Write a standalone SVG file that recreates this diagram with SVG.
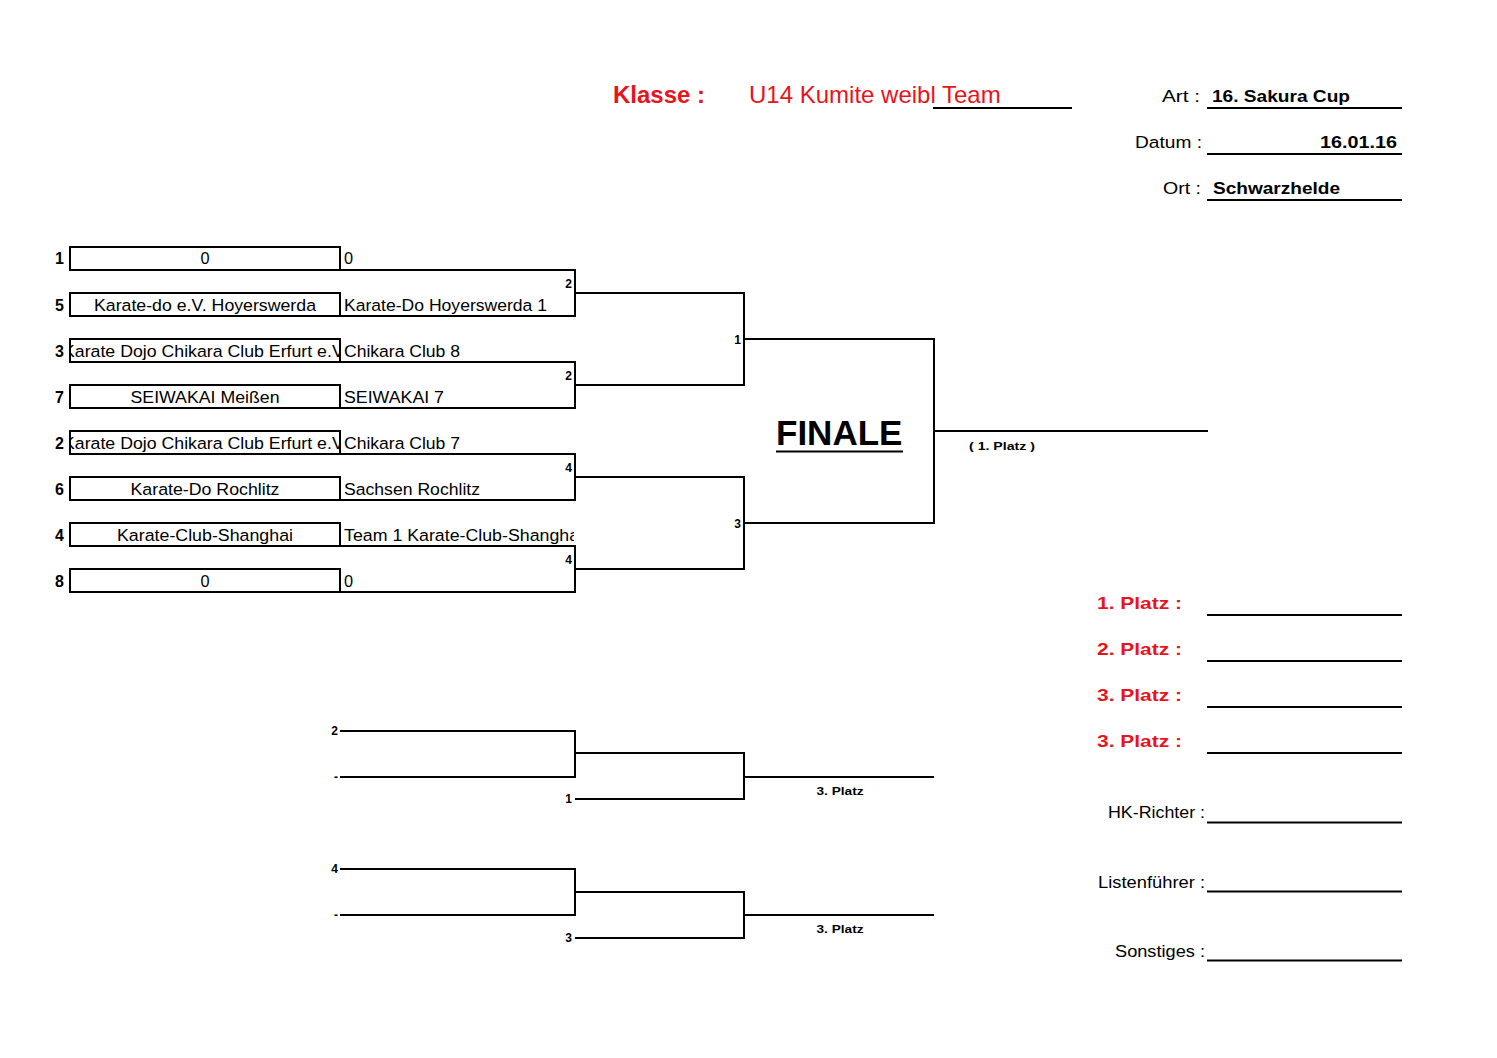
<svg xmlns="http://www.w3.org/2000/svg" width="1497" height="1058" viewBox="0 0 1497 1058">
<style>
text{font-family:"Liberation Sans",Arial,sans-serif;fill:#000}
.red{fill:#e8141c}
.b{font-weight:bold}
.t16{font-size:16.3px}
.seed{font-size:16px;font-weight:bold;text-anchor:end}
.box{fill:#fff;stroke:#000;stroke-width:2}
.con{fill:none;stroke:#000;stroke-width:2}
.ul{stroke:#000;stroke-width:2.2}
.sm{font-size:12px;font-weight:bold}
.xs{font-size:11px;font-weight:bold}
.mid{text-anchor:middle}
.end{text-anchor:end}
</style>
<defs>
<clipPath id="cb"><rect x="71" y="230" width="268" height="380"/></clipPath>
<clipPath id="cr"><rect x="341" y="230" width="233" height="380"/></clipPath>
</defs>
<rect width="1497" height="1058" fill="#fff"/>

<g id="header">
<text x="613" y="103" class="red b" font-size="24">Klasse :</text>
<text x="749" y="103" class="red" font-size="24">U14 Kumite weibl Team</text>
<line x1="933" y1="108" x2="1072" y2="108" class="ul" stroke-width="2.5"/>
<text x="1200" y="102" class="t16 end" textLength="38" lengthAdjust="spacingAndGlyphs">Art :</text>
<text x="1212" y="102" class="t16 b" textLength="138" lengthAdjust="spacingAndGlyphs">16. Sakura Cup</text>
<line x1="1207" y1="108" x2="1402" y2="108" class="ul"/>
<text x="1202" y="148" class="t16 end" textLength="67" lengthAdjust="spacingAndGlyphs">Datum :</text>
<text x="1397" y="148" class="t16 b end" textLength="77" lengthAdjust="spacingAndGlyphs">16.01.16</text>
<line x1="1207" y1="154" x2="1402" y2="154" class="ul"/>
<text x="1201" y="194" class="t16 end" textLength="38" lengthAdjust="spacingAndGlyphs">Ort :</text>
<text x="1213" y="194" class="t16 b" textLength="127" lengthAdjust="spacingAndGlyphs">Schwarzhelde</text>
<line x1="1207" y1="200" x2="1402" y2="200" class="ul"/>
</g>

<g id="connectors">
<path class="con" d="M340 270H575V316H340"/>
<path class="con" d="M340 362H575V408H340"/>
<path class="con" d="M340 454H575V500H340"/>
<path class="con" d="M340 546H575V592H340"/>
<path class="con" d="M575 293H744V385H575"/>
<path class="con" d="M575 477H744V569H575"/>
<path class="con" d="M744 339H934V523H744"/>
<path class="con" d="M934 431H1208"/>
<path class="con" d="M340 731H575V777H340"/>
<path class="con" d="M575 753H744V799H575"/>
<path class="con" d="M744 777H934"/>
<path class="con" d="M340 869H575V915H340"/>
<path class="con" d="M575 892H744V938H575"/>
<path class="con" d="M744 915H934"/>
</g>

<g id="seed1">
<rect class="box" x="70" y="247" width="270" height="23"/>
<text x="64" y="264" class="seed">1</text>
<text x="205" y="264" class="t16 mid">0</text>
<text x="344" y="264" class="t16">0</text>
</g>
<g id="seed5">
<rect class="box" x="70" y="293" width="270" height="23"/>
<text x="64" y="311" class="seed">5</text>
<text x="205" y="311" class="t16 mid" textLength="222" lengthAdjust="spacingAndGlyphs">Karate-do e.V. Hoyerswerda</text>
<text x="344" y="311" class="t16" textLength="203" lengthAdjust="spacingAndGlyphs">Karate-Do Hoyerswerda 1</text>
</g>
<g id="seed3">
<rect class="box" x="70" y="339" width="270" height="23"/>
<text x="64" y="357" class="seed">3</text>
<text x="205" y="357" class="t16 mid" clip-path="url(#cb)" textLength="284" lengthAdjust="spacingAndGlyphs">Karate Dojo Chikara Club Erfurt e.V.</text>
<text x="344" y="357" class="t16" textLength="116" lengthAdjust="spacingAndGlyphs">Chikara Club 8</text>
</g>
<g id="seed7">
<rect class="box" x="70" y="385" width="270" height="23"/>
<text x="64" y="403" class="seed">7</text>
<text x="205" y="403" class="t16 mid" textLength="149" lengthAdjust="spacingAndGlyphs">SEIWAKAI Meißen</text>
<text x="344" y="403" class="t16" textLength="100" lengthAdjust="spacingAndGlyphs">SEIWAKAI 7</text>
</g>
<g id="seed2">
<rect class="box" x="70" y="431" width="270" height="23"/>
<text x="64" y="449" class="seed">2</text>
<text x="205" y="449" class="t16 mid" clip-path="url(#cb)" textLength="284" lengthAdjust="spacingAndGlyphs">Karate Dojo Chikara Club Erfurt e.V.</text>
<text x="344" y="449" class="t16" textLength="116" lengthAdjust="spacingAndGlyphs">Chikara Club 7</text>
</g>
<g id="seed6">
<rect class="box" x="70" y="477" width="270" height="23"/>
<text x="64" y="495" class="seed">6</text>
<text x="205" y="495" class="t16 mid" textLength="149" lengthAdjust="spacingAndGlyphs">Karate-Do Rochlitz</text>
<text x="344" y="495" class="t16" textLength="136" lengthAdjust="spacingAndGlyphs">Sachsen Rochlitz</text>
</g>
<g id="seed4">
<rect class="box" x="70" y="523" width="270" height="23"/>
<text x="64" y="541" class="seed">4</text>
<text x="205" y="541" class="t16 mid" textLength="176" lengthAdjust="spacingAndGlyphs">Karate-Club-Shanghai</text>
<text x="344" y="541" class="t16" clip-path="url(#cr)" textLength="239" lengthAdjust="spacingAndGlyphs">Team 1 Karate-Club-Shanghai</text>
</g>
<g id="seed8">
<rect class="box" x="70" y="569" width="270" height="23"/>
<text x="64" y="587" class="seed">8</text>
<text x="205" y="587" class="t16 mid">0</text>
<text x="344" y="587" class="t16">0</text>
</g>

<g id="round-labels">
<text x="572" y="288" class="sm end">2</text>
<text x="572" y="380" class="sm end">2</text>
<text x="572" y="472" class="sm end">4</text>
<text x="572" y="564" class="sm end">4</text>
<text x="741" y="344" class="sm end">1</text>
<text x="741" y="528" class="sm end">3</text>
</g>

<g id="finale">
<text x="776" y="445" font-size="35" class="b">FINALE</text>
<line x1="776" y1="451.5" x2="903" y2="451.5" class="ul"/>
<text x="969" y="450" class="xs" textLength="66" lengthAdjust="spacingAndGlyphs">( 1. Platz )</text>
</g>

<g id="repechage1">
<text x="338" y="735" class="sm end">2</text>
<text x="338" y="781" class="sm end">-</text>
<text x="572" y="803" class="sm end">1</text>
<text x="840" y="795" class="xs mid" textLength="47" lengthAdjust="spacingAndGlyphs">3. Platz</text>
</g>
<g id="repechage2">
<text x="338" y="873" class="sm end">4</text>
<text x="338" y="919" class="sm end">-</text>
<text x="572" y="942" class="sm end">3</text>
<text x="840" y="933" class="xs mid" textLength="47" lengthAdjust="spacingAndGlyphs">3. Platz</text>
</g>

<g id="results">
<text x="1097" y="609" class="red b t16" textLength="85" lengthAdjust="spacingAndGlyphs">1. Platz :</text>
<line x1="1207" y1="615" x2="1402" y2="615" class="ul"/>
<text x="1097" y="655" class="red b t16" textLength="85" lengthAdjust="spacingAndGlyphs">2. Platz :</text>
<line x1="1207" y1="661" x2="1402" y2="661" class="ul"/>
<text x="1097" y="701" class="red b t16" textLength="85" lengthAdjust="spacingAndGlyphs">3. Platz :</text>
<line x1="1207" y1="707" x2="1402" y2="707" class="ul"/>
<text x="1097" y="747" class="red b t16" textLength="85" lengthAdjust="spacingAndGlyphs">3. Platz :</text>
<line x1="1207" y1="753" x2="1402" y2="753" class="ul"/>
</g>

<g id="officials">
<text x="1205" y="818" class="t16 end" textLength="97" lengthAdjust="spacingAndGlyphs">HK-Richter :</text>
<line x1="1207" y1="822.5" x2="1402" y2="822.5" class="ul" stroke-width="1.6"/>
<text x="1205" y="887.5" class="t16 end" textLength="107" lengthAdjust="spacingAndGlyphs">Listenführer :</text>
<line x1="1207" y1="891.5" x2="1402" y2="891.5" class="ul" stroke-width="1.6"/>
<text x="1205" y="956.5" class="t16 end" textLength="90" lengthAdjust="spacingAndGlyphs">Sonstiges :</text>
<line x1="1207" y1="960.5" x2="1402" y2="960.5" class="ul" stroke-width="1.6"/>
</g>
</svg>
